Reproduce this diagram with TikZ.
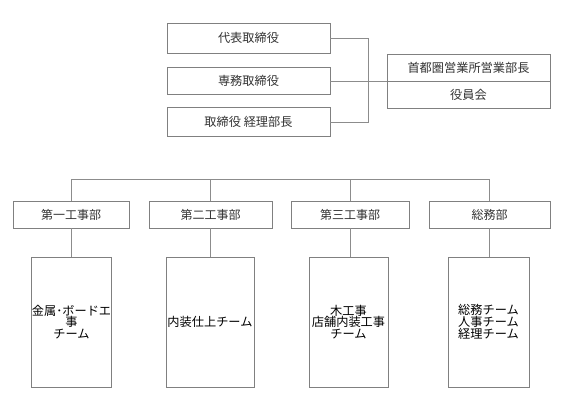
\documentclass[tikz,border=0pt]{standalone}
\usepackage{fontspec}
\setmainfont{Noto Sans CJK JP}
\definecolor{linegray}{HTML}{8C8C8C}
\definecolor{boxgray}{HTML}{808080}
\definecolor{toptext}{HTML}{333333}
\begin{document}
\begin{tikzpicture}[x=1pt,y=-1pt,
  box/.style={draw=boxgray, line width=0.8pt, inner sep=0pt, align=center},
  topbox/.style={box, minimum width=163, text=toptext, font=\fontsize{12.2}{14}\selectfont},
  depbox/.style={box, minimum height=27, text=toptext, font=\fontsize{12}{14}\selectfont},
  teambox/.style={box, minimum height=130, text=black, font=\fontsize{12.2}{11.8}\selectfont},
  conn/.style={draw=linegray, line width=0.8pt}]
\useasboundingbox (0,0) rectangle (561,400);
\fill[white] (0,0) rectangle (561,400);
% top group
\node[topbox, minimum height=30] (d1) at (248.5,38.3) {代表取締役};
\node[topbox, minimum height=27.5] (d2) at (248.5,81) {専務取締役};
\node[topbox, minimum height=28.5] (d3) at (248.5,122) {取締役 経理部長};
\node[topbox, minimum height=27] (r1) at (468.5,67.5) {首都圏営業所営業部長};
\node[topbox, minimum height=27] (r2) at (468.5,94.5) {役員会};
\coordinate (j) at (368.3,81);
\draw[conn] (d1.east) -| (j);
\draw[conn] (d3.east) -| (j);
\draw[conn] (d2.east) -- (d2.east -| r1.west);
% departments
\node[depbox, minimum width=116] (p1) at (71,214.5) {第一工事部};
\node[depbox, minimum width=123] (p2) at (210.5,214.5) {第二工事部};
\node[depbox, minimum width=118] (p3) at (350,214.5) {第三工事部};
\node[depbox, minimum width=121] (p4) at (489.5,214.5) {総務部};
\coordinate (bar) at (0,179);
\draw[conn] (p1.north) -- (p1.north |- bar) -- (p4.north |- bar) -- (p4.north);
\draw[conn] (p2.north) -- (p2.north |- bar);
\draw[conn] (p3.north) -- (p3.north |- bar);
% teams
\node[teambox, minimum width=79] (t1) at (71.5,322) {金属･ボードエ\\事\\チーム};
\node[teambox, minimum width=88] (t2) at (210,322) {内装仕上チーム};
\node[teambox, minimum width=79] (t3) at (348.5,322) {木工事\\店舗内装工事\\チーム};
\node[teambox, minimum width=81] (t4) at (488.5,322) {総務チーム\\人事チーム\\経理チーム};
\draw[conn] (p1.south) -- (p1.south |- t1.north);
\draw[conn] (p2.south) -- (p2.south |- t2.north);
\draw[conn] (p3.south) -- (p3.south |- t3.north);
\draw[conn] (p4.south) -- (p4.south |- t4.north);
\end{tikzpicture}
\end{document}
